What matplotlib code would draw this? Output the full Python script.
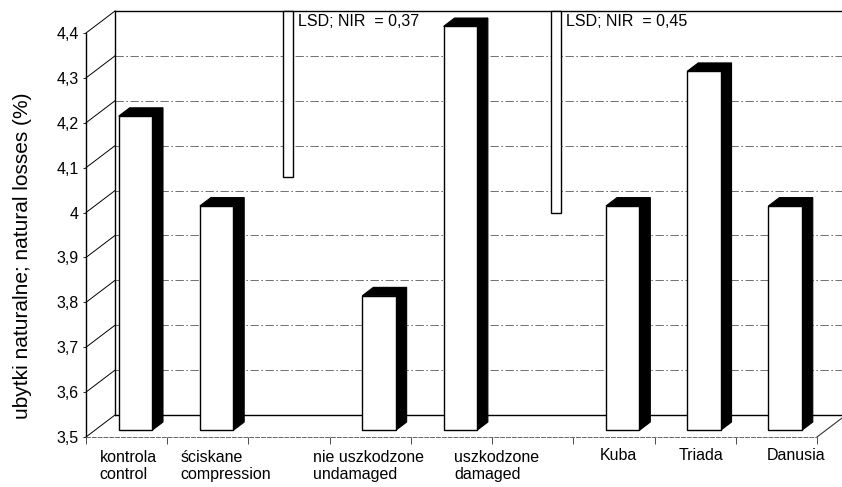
import matplotlib
matplotlib.use("Agg")
import matplotlib.pyplot as plt
from matplotlib.patches import Polygon
import numpy as np

# data
labels = ["kontrola\ncontrol", "ściskane\ncompression", "nie uszkodzone\nundamaged",
          "uszkodzone\ndamaged", "Kuba", "Triada", "Danusia"]
values = [4.2, 4.0, 3.8, 4.4, 4.0, 4.3, 4.0]
slots = [0, 1, 3, 4, 6, 7, 8]
lsd_values = [0.37, 0.45]
lsd_texts = ["LSD; NIR  = 0,37", "LSD; NIR  = 0,45"]
yticks = [3.5, 3.6, 3.7, 3.8, 3.9, 4.0, 4.1, 4.2, 4.3, 4.4]
ytick_labels = ["3,5", "3,6", "3,7", "3,8", "3,9", "4", "4,1", "4,2", "4,3", "4,4"]

# layout (pixels)
W, H = 842, 487
ax_l, ax_r, ax_t, ax_b = 86, 817, 33, 437
nslots = 9
ymin, ymax = 3.5, 4.4
xs = nslots / (ax_r - ax_l)          # data per px
ys = (ymax - ymin) / (ax_b - ax_t)
DX, DY = 29 * xs, 22 * ys            # depth of the box
t1, t2 = 0.30, 0.68                  # bar depth range
bw = 0.41
fs = 11.5

fig = plt.figure(figsize=(W / 100, H / 100), dpi=100)
ax = fig.add_axes([ax_l / W, (H - ax_b) / H, (ax_r - ax_l) / W, (ax_b - ax_t) / H])
ax.set_xlim(0, nslots)
ax.set_ylim(ymin, ymax)
ax.patch.set_visible(False)

for s in ["top", "right"]:
    ax.spines[s].set_visible(False)
ax.spines["left"].set_linewidth(1.0)
ax.spines["bottom"].set_linewidth(0.7)
ax.spines["bottom"].set_color("0.4")
ax.spines["bottom"].set_linestyle((0, (4, 2)))

ax.set_yticks(yticks)
ax.set_yticklabels(ytick_labels, fontsize=fs, family="Liberation Sans")
ax.set_xticks(np.arange(nslots + 1))
ax.set_xticklabels([])
ax.tick_params(axis="y", length=2, width=0.6, pad=3)
ax.tick_params(axis="x", length=5, width=0.7, direction="out", color="0.3")

ax.set_ylabel("ubytki naturalne; natural losses (%)", family="Liberation Sans",
              fontsize=15)
ax.yaxis.set_label_coords((32 - ax_l) / (ax_r - ax_l), (ax_b - 256) / (ax_b - ax_t))

# back wall and side wall
xend = nslots + 0.5
for v in yticks:
    if v in (ymin, ymax):
        ax.plot([DX, xend], [v + DY, v + DY], color="k", lw=1.0, clip_on=False, zorder=1)
    else:
        ax.plot([DX, xend], [v + DY, v + DY], color="0.35", lw=0.6,
                ls=(0, (10, 3, 2, 3)), clip_on=False, zorder=1)
    ax.plot([0, DX], [v, v + DY], color="k", lw=0.7, clip_on=False, zorder=1)
ax.plot([DX, DX], [ymin + DY, ymax + DY], color="k", lw=1.0, clip_on=False, zorder=1)
ax.plot([nslots, nslots + DX], [ymin, ymin + DY], color="0.2", lw=0.8, clip_on=False, zorder=1)

# LSD bars hanging from the top of the back wall
lsd_x = [2.13, 5.43]
for x, l, txt in zip(lsd_x, lsd_values, lsd_texts):
    ax.bar(x + DX, -l, bottom=ymax + DY, width=0.12, color="white", edgecolor="k",
           linewidth=1.0, clip_on=False, zorder=2)
    ax.text(x + DX + 0.12, ymax + DY - 3 * ys, txt, fontsize=fs, family="Liberation Sans",
            ha="left", va="top", zorder=3)

# 3D bars
centers = np.array(slots) + 0.5
ax.bar(centers + t1 * DX, np.array(values) - ymin, bottom=ymin + t1 * DY, width=bw,
       color="white", edgecolor="k", linewidth=1.0, zorder=4, clip_on=False)
for c, v in zip(centers, values):
    xl, xr = c - bw / 2, c + bw / 2
    side = [(xr + t1 * DX, ymin + t1 * DY), (xr + t2 * DX, ymin + t2 * DY),
            (xr + t2 * DX, v + t2 * DY), (xr + t1 * DX, v + t1 * DY)]
    top = [(xl + t1 * DX, v + t1 * DY), (xr + t1 * DX, v + t1 * DY),
           (xr + t2 * DX, v + t2 * DY), (xl + t2 * DX, v + t2 * DY)]
    ax.add_patch(Polygon(side, closed=True, facecolor="k", edgecolor="k", lw=0.8,
                         zorder=3, clip_on=False))
    ax.add_patch(Polygon(top, closed=True, facecolor="k", edgecolor="k", lw=0.8,
                         zorder=3, clip_on=False))

# category labels
label_x = [0.17, 1.16, 2.80, 4.53, 6.56, 7.57, 8.74]
for lab, x in zip(labels, label_x):
    if "\n" in lab:
        ax.text(x, ymin - 13 * ys, lab, fontsize=fs, family="Liberation Sans",
                ha="left", va="top", linespacing=1.15, clip_on=False)
    else:
        ax.text(x, ymin - 18 * ys, lab, fontsize=fs, family="Liberation Sans",
                ha="center", va="center", clip_on=False)

fig.savefig("out.png", dpi=100)
